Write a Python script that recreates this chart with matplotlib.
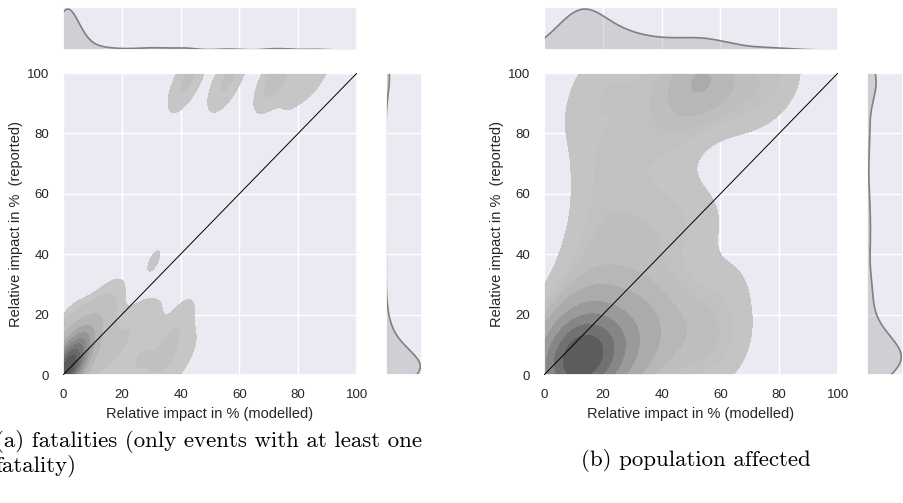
import numpy as np
import matplotlib
matplotlib.use("Agg")
import matplotlib.pyplot as plt
from matplotlib.colors import ListedColormap
import seaborn as sns
from seaborn.external import husl

# ---------------- data ----------------
# (a) fatalities: modelled (x) vs reported (y) relative impact in %, with event counts
a_x = [0, 1, 2, 1, 3, 2, 4, 5, 6, 8, 3, 5, 7, 0, 0, 1, 10, 10, 13, 16,
       15, 20, 24, 28, 30, 34, 38, 40, 42, 22, 31, 14, 36, 26,
       31,
       32, 43, 41, 57, 54, 71, 74, 86, 78]
a_y = [0, 1, 2, 3, 4, 6, 6, 8, 10, 12, 1, 3, 5, 5, 9, 13, 8, 15, 20, 24,
       6, 12, 16, 8, 19, 6, 14, 18, 8, 3, 2, 14, 1, 2,
       38,
       104, 99, 95, 99, 95, 97, 100, 101, 93]
a_n = [30, 20, 14, 10, 10, 6, 6, 5, 4, 3, 6, 4, 3, 6, 3, 2, 2, 2, 1, 1,
       2, 1, 1, 1, 1, 1, 1, 1, 1, 1, 1, 1, 1, 1,
       1,
       1, 2, 1, 2, 1, 2, 2, 2, 1]

# (b) population affected
b_x = [12, 15, 10, 17, 8, 13, 20, 6, 18, 22, 10, 25, 5, 3,
       28, 30, 33, 36, 38, 42, 45, 48, 52, 57, 62, 63, 24, 16, 12, 30,
       16, 20, 28, 18, 23, 34, 40, 44, 14, 35, 45, 54,
       18, 28, 38, 48, 52, 57, 60, 68, 75, 80]
b_y = [3, 6, 7, 3, 4, 11, 7, 2, 12, 2, 14, 10, 10, 3,
       5, 16, 10, 24, 3, 14, 26, 8, 18, 5, 28, 12, 26, 26, 30, 34,
       42, 52, 46, 65, 74, 60, 42, 55, 84, 80, 78, 50,
       97, 99, 96, 95, 98, 100, 93, 93, 95, 100]
b_n = [7, 5, 4, 4, 4, 3, 3, 3, 2, 2, 2, 2, 2, 2,
       2, 2, 1, 1, 1, 1, 1, 1, 1, 1, 1, 1, 1, 1, 1, 1,
       1, 1, 1, 1, 1, 1, 1, 1, 1, 1, 1, 1,
       1, 1, 1, 1, 3, 2, 1, 1, 1, 1]

x_ticks = [0, 20, 40, 60, 80, 100]
y_ticks = [0, 20, 40, 60, 80, 100]
x_label = "Relative impact in % (modelled)"
y_label = "Relative impact in %  (reported)"
cap_a = ["(a) fatalities (only events with at least one", "fatality)"]
cap_b = "(b) population affected"

# ---------------- style ----------------
sns.set_theme(style="darkgrid")
plt.rcParams['font.family'] = ['Liberation Sans', 'DejaVu Sans']

# grey density colormap (same ramp seaborn builds from a single colour)
_L = np.linspace(35, 80, 256)
density_cmap = ListedColormap(np.clip([husl.husl_to_rgb(0, 0, l) for l in _L], 0, 1))

W, H = 904, 503
fig = plt.figure(figsize=(W / 100, H / 100), dpi=100)
grid = np.linspace(-45, 145, 381)


def box(x0, y0, x1, y1):
    return [x0 / W, 1 - y1 / H, (x1 - x0) / W, (y1 - y0) / H]


def kde2d(xs, ys, ns, cov):
    xs = np.asarray(xs, float); ys = np.asarray(ys, float); ns = np.asarray(ns, float)
    inv = np.linalg.inv(np.asarray(cov, float))
    GX, GY = np.meshgrid(grid, grid)
    dx = GX[..., None] - xs
    dy = GY[..., None] - ys
    q = inv[0, 0] * dx * dx + 2 * inv[0, 1] * dx * dy + inv[1, 1] * dy * dy
    return GX, GY, (np.exp(-0.5 * q) * ns).sum(-1)


def kde1d(v, ns, bw):
    v = np.asarray(v, float); ns = np.asarray(ns, float)
    return (ns * np.exp(-0.5 * ((grid[:, None] - v) / bw) ** 2)).sum(1)


def iso_levels(d, thresh=0.05, n=10):
    iso = np.linspace(thresh, 1, n)
    vals = np.sort(d.ravel())[::-1]
    cum = np.cumsum(vals) / vals.sum()
    idx = np.searchsorted(cum, 1 - iso)
    return np.take(vals, idx, mode="clip")


def panel(xs, ys, ns, x0, cov, bwx, bwy):
    ax = fig.add_axes(box(x0, 73, x0 + 294, 375))
    axx = fig.add_axes(box(x0, 7, x0 + 294, 50), sharex=ax)
    axy = fig.add_axes(box(x0 + 323, 73, x0 + 359, 375), sharey=ax)

    GX, GY, d = kde2d(xs, ys, ns, cov)
    ax.contourf(GX, GY, d, levels=iso_levels(d), cmap=density_cmap.reversed())
    ax.plot([0, 100], [0, 100], color='black', lw=0.7, zorder=5)

    dx = kde1d(xs, ns, bwx)
    axx.fill_between(grid, 0, dx, facecolor=(0.5, 0.5, 0.5, 0.25),
                     edgecolor='none')
    axx.plot(grid, dx, color='grey', lw=1.2)
    axx.set_ylim(0, dx.max() * 1.05)

    dy = kde1d(ys, ns, bwy)
    axy.fill_betweenx(grid, 0, dy, facecolor=(0.5, 0.5, 0.5, 0.25),
                      edgecolor='none')
    axy.plot(dy, grid, color='grey', lw=1.2)
    axy.set_xlim(0, dy.max() * 1.05)

    ax.set_xlim(0, 100)
    ax.set_ylim(0, 100)
    ax.set_xticks(x_ticks)
    ax.set_yticks(y_ticks)
    ax.tick_params(labelsize=9.5, pad=4, colors='.15')
    ax.set_xlabel(x_label, fontsize=10.5, labelpad=4.5, color='.15')
    ax.set_ylabel(y_label, fontsize=10.5, labelpad=3, color='.15')

    for m in (axx, axy):
        m.tick_params(labelbottom=False, labelleft=False, left=False, bottom=False)
        m.set_xlabel('')
        m.set_ylabel('')
    axx.yaxis.grid(False)
    axy.xaxis.grid(False)
    return ax


# kernel covariances / 1-D bandwidths (smoothing settings)
panel(a_x, a_y, a_n, 63, [[17.8, 19.6], [19.6, 46.3]], 3.5, 5.0)
panel(b_x, b_y, b_n, 544, [[64, 20], [20, 100]], 6.5, 6.0)

fig.text(-5 / W, 1 - 447 / H, cap_a[0], fontfamily='cmr10', fontsize=16.5,
         ha='left', va='baseline', color='black')
fig.text(-5 / W, 1 - 472 / H, cap_a[1], fontfamily='cmr10', fontsize=16.5,
         ha='left', va='baseline', color='black')
fig.text(696 / W, 1 - 466 / H, cap_b, fontfamily='cmr10', fontsize=16.5,
         ha='center', va='baseline', color='black')

fig.savefig("out.png", dpi=100)
